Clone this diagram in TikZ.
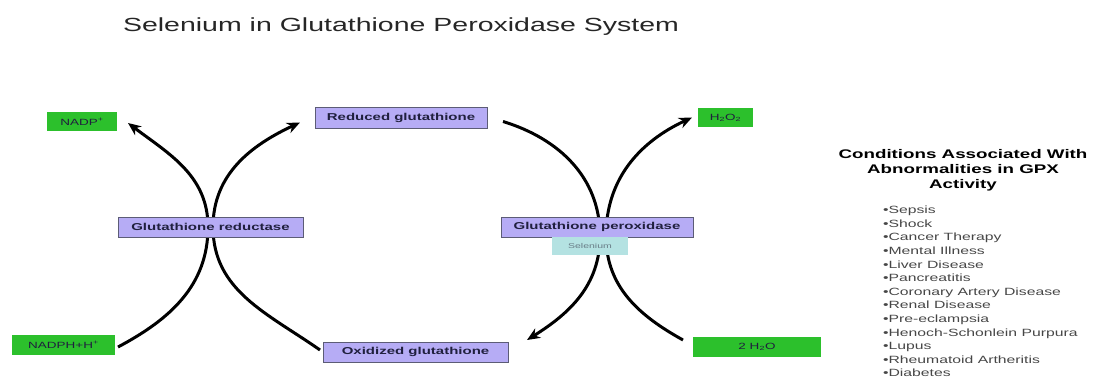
\documentclass[tikz,border=0pt]{standalone}
\usepackage{fontspec}
\setmainfont{Liberation Sans}[FakeStretch=1.5]
\usetikzlibrary{positioning,arrows.meta,backgrounds}

\definecolor{chemgreen}{RGB}{44,192,44}
\definecolor{enzlav}{RGB}{182,172,245}
\definecolor{enzedge}{RGB}{92,92,118}
\definecolor{selfill}{RGB}{180,226,226}
\definecolor{seltext}{RGB}{105,125,135}
\definecolor{boxtext}{RGB}{32,32,62}
\definecolor{listgray}{RGB}{70,70,70}

\begin{document}
\begin{tikzpicture}[
    x=1pt, y=1pt,
    every node/.style={inner sep=0pt, outer sep=0pt},
    chem/.style={rectangle, fill=chemgreen, minimum height=19pt, text=boxtext, font=\fontsize{9}{10}\selectfont},
    enzyme/.style={rectangle, fill=enzlav, draw=enzedge, line width=0.8pt, minimum height=20pt, text=boxtext, font=\fontsize{10}{11}\selectfont\bfseries},
    glut/.style={enzyme},
    cofactor/.style={rectangle, fill=selfill, minimum width=76pt, minimum height=18pt, text=seltext, font=\fontsize{7}{8}\selectfont},
    arrow/.style={-{Stealth[length=13pt,width=11pt]}, line width=3pt, black}
]
\useasboundingbox (0,0) rectangle (1093,-379);

% Title
\node[anchor=base west, font=\fontsize{19}{22}\selectfont, text=black!85] (title) at (123,-32) {Selenium in Glutathione Peroxidase System};

% Left cycle: glutathione reductase
\node[chem, minimum width=70pt] (nadp) at (82,-122) {NADP\textsuperscript{+}};
\node[chem, minimum width=103pt, minimum height=20pt] (nadph) at (63.5,-345) {NADPH+H\textsuperscript{+}};
\node[enzyme, minimum width=185pt] (gr) at (210.5,-227) {Glutathione reductase};

% Glutathione pool
\node[glut, minimum width=172pt, minimum height=21pt] (gsh) at (401,-117.5) {Reduced glutathione};
\node[glut, minimum width=185pt] (gssg) at (415.5,-352) {Oxidized glutathione};

% Right cycle: glutathione peroxidase
\node[enzyme, minimum width=192pt] (gpx) at (597,-227) {Glutathione peroxidase};
\node[cofactor, below=0pt of gpx, xshift=-7pt] (se) {Selenium};
\node[chem, minimum width=55pt] (hoo) at (725.5,-117.5) {H\textsubscript{2}O\textsubscript{2}};
\node[chem, minimum width=128pt, minimum height=20pt] (water) at (757,-347) {2 H\textsubscript{2}O};

% ------------------ Arrows ------------------
\begin{pgfonlayer}{background}
\draw[arrow] ([xshift=3pt,yshift=-2pt]nadph.east) to[out=28,in=-90] ([xshift=-2.5pt]gr.center) to[out=90,in=-37] ([xshift=11pt,yshift=-1pt]nadp.east);
\draw[arrow] ([xshift=-3pt,yshift=2pt]gssg.west) to[out=145,in=-90] ([xshift=2.5pt]gr.center) to[out=90,in=205] ([xshift=-15pt,yshift=-5pt]gsh.west);
\draw[arrow] ([xshift=16pt,yshift=-4pt]gsh.east) to[out=-17,in=90] ([xshift=3pt,yshift=-9pt]gpx.center) to[out=-90,in=32] ([xshift=19pt,yshift=12pt]gssg.east);
\draw[arrow] ([xshift=-10pt,yshift=7pt]water.west) to[out=151,in=-90] ([xshift=9pt,yshift=-9pt]gpx.center) to[out=90,in=205] ([xshift=-6pt]hoo.west);
\end{pgfonlayer}

% ------------------ Conditions ------------------
\node[align=center, font=\fontsize{12.5}{15}\selectfont\bfseries] (condhead) at (963,-170) {Conditions Associated With\\Abnormalities in GPX\\Activity};
\node[anchor=north west, align=left, text=listgray, font=\fontsize{10.5}{13.6}\selectfont] (condlist) at (883,-206)
  {•Sepsis\\•Shock\\•Cancer Therapy\\•Mental Illness\\•Liver Disease\\•Pancreatitis\\•Coronary Artery Disease\\•Renal Disease\\•Pre-eclampsia\\•Henoch-Schonlein Purpura\\•Lupus\\•Rheumatoid Artheritis\\•Diabetes};

\end{tikzpicture}
\end{document}
